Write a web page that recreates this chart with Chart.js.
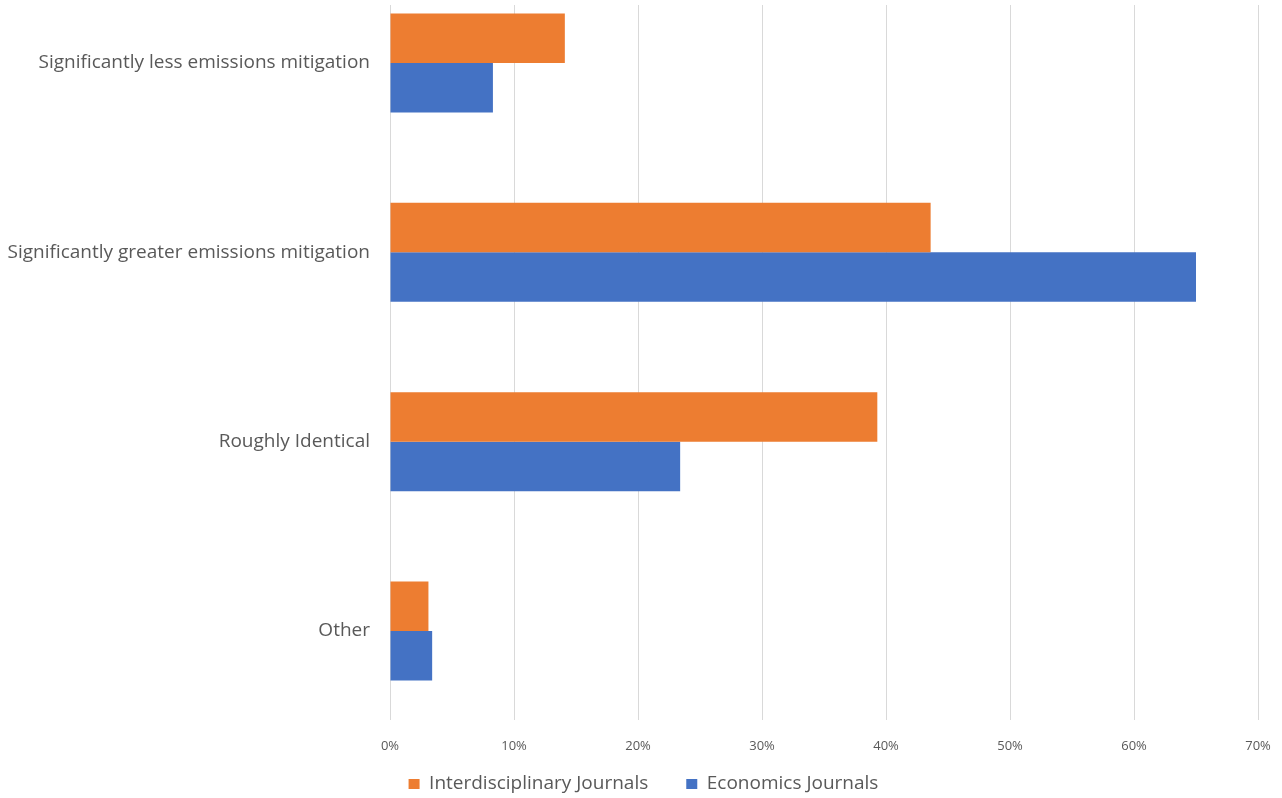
<!DOCTYPE html>
<html>
<head>
<meta charset="utf-8">
<script src="https://cdn.jsdelivr.net/npm/chart.js@4"></script>
<style>
  html, body { margin: 0; padding: 0; background: #fff; overflow: hidden; }
  #wrap { width: 1282px; height: 798px; }
</style>
</head>
<body>
<div id="wrap"><canvas id="barChart"></canvas></div>
<script>
// Categories and percentages
const categories = [
    'Significantly less emissions mitigation',
    'Significantly greater emissions mitigation',
    'Roughly Identical',
    'Other'
];
const interdisciplinary = [14.1, 43.6, 39.3, 3.1];
const economics = [8.3, 65.0, 23.4, 3.4];
const xTicks = [0, 10, 20, 30, 40, 50, 60, 70];

const textColor = '#595959';
const gridColor = '#d9d9d9';

function drawChart() {
    var ctx = document.getElementById('barChart').getContext('2d');
    var barChart = new Chart(ctx, {
        type: 'bar',
        data: {
            labels: categories,
            datasets: [{
                label: 'Interdisciplinary Journals',
                data: interdisciplinary,
                backgroundColor: '#ED7D31',
                clip: false,
                xAxisID: 'x'
            },
            {
                label: 'Economics Journals',
                data: economics,
                backgroundColor: '#4472C4',
                clip: false,
                xAxisID: 'x'
            }]
        },
        options: {
            indexAxis: 'y',
            responsive: true,
            maintainAspectRatio: false,
            animation: false,
            categoryPercentage: 0.523,
            barPercentage: 1.0,
            layout: {
                padding: { top: 5, right: 0, bottom: -5.5, left: 5 }
            },
            plugins: {
                legend: {
                    position: 'bottom',
                    // empty title with negative padding so the item gap can be wide
                    title: {
                        display: true,
                        text: '',
                        font: { size: 1 },
                        padding: { top: 0, bottom: -19.7 }
                    },
                    labels: {
                        color: textColor,
                        font: { family: 'Open Sans', size: 19 },
                        boxWidth: 11,
                        boxHeight: 10,
                        padding: 38
                    }
                },
                tooltip: { enabled: false }
            },
            scales: {
                y: {
                    offset: false,
                    grid: { display: false, drawTicks: false },
                    border: { display: false },
                    ticks: {
                        color: textColor,
                        font: { family: 'Open Sans', size: 19 },
                        padding: 20
                    },
                    afterFit: function (scale) {
                        scale.width = 385;
                    }
                },
                x: {
                    position: 'bottom',
                    min: xTicks[0],
                    max: xTicks[xTicks.length - 1],
                    grid: {
                        color: gridColor,
                        lineWidth: 1,
                        drawTicks: true,
                        tickLength: 89
                    },
                    border: { display: false },
                    ticks: {
                        stepSize: 10,
                        color: textColor,
                        font: { family: 'Open Sans', size: 13 },
                        padding: 18,
                        callback: function (value) { return value + '%'; }
                    },
                    afterFit: function (scale) {
                        scale.paddingRight = 24;
                        scale.height = 124;
                    }
                },
                // top axis only used to carry the gridlines up above the first bar
                x2: {
                    position: 'top',
                    min: xTicks[0],
                    max: xTicks[xTicks.length - 1],
                    grid: {
                        color: gridColor,
                        lineWidth: 1,
                        drawOnChartArea: false,
                        drawTicks: true,
                        tickLength: 58
                    },
                    border: { display: false },
                    ticks: { display: false, stepSize: 10 }
                }
            }
        }
    });
}

// make sure the text is measured with the real font
Promise.all([
    document.fonts.load('19px "Open Sans"'),
    document.fonts.load('13px "Open Sans"')
]).then(drawChart, drawChart);
</script>
</body>
</html>
